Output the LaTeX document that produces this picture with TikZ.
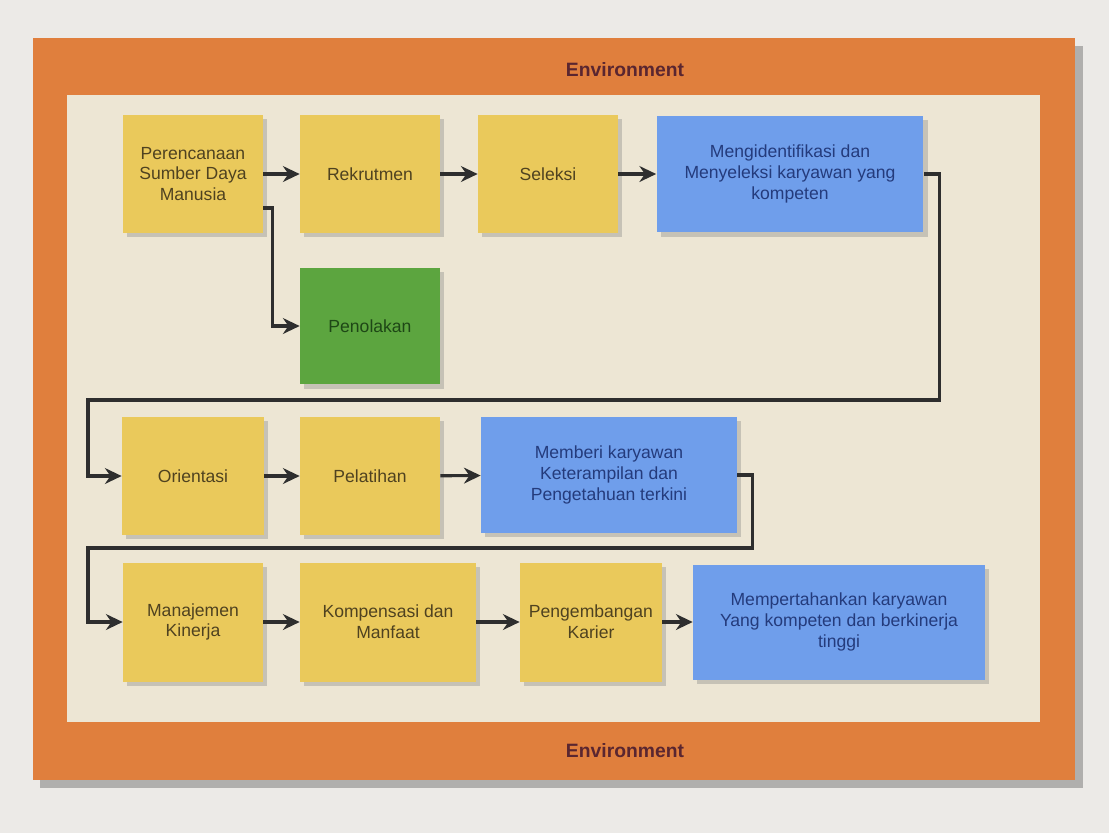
\documentclass[tikz,border=0pt]{standalone}
\usepackage{fontspec}
\setmainfont{Liberation Sans}
\usetikzlibrary{shadows,arrows.meta}
\definecolor{pagegray}{HTML}{ECEAE7}
\definecolor{envorange}{HTML}{E07F3D}
\definecolor{envtext}{HTML}{5A2630}
\definecolor{cream}{HTML}{EDE6D4}
\definecolor{boxyellow}{HTML}{EAC95B}
\definecolor{boxgreen}{HTML}{5CA53F}
\definecolor{boxblue}{HTML}{6F9EEB}
\definecolor{txtolive}{HTML}{4F4220}
\definecolor{txtnavy}{HTML}{243B7C}
\definecolor{txtgreen}{HTML}{1E4716}
\definecolor{linkgray}{HTML}{2E2E2E}

\begin{document}
\begin{tikzpicture}[x=0.02cm, y=-0.02cm,
  box/.style={minimum width=2.8cm, minimum height=2.36cm, align=center, inner sep=2pt,
    font=\fontsize{10}{11.8}\selectfont,
    drop shadow={shadow xshift=2.5pt, shadow yshift=-2.5pt, opacity=0.35}},
  hrm/.style={box, fill=boxyellow, text=txtolive},
  reject/.style={box, fill=boxgreen, text=txtgreen},
  result/.style={box, fill=boxblue, text=txtnavy},
  link/.style={draw=linkgray, line width=1.8pt, -{Stealth[length=9.5pt,width=9pt]}},
  envlabel/.style={font=\bfseries\fontsize{11}{13}\selectfont, text=envtext}]

\useasboundingbox (0,0) rectangle (1109,833);
\fill[pagegray] (0,0) rectangle (1109,833);

% frame
\fill[black, opacity=0.25] (40,46) rectangle (1083,788);
\fill[envorange] (33,38) rectangle (1075,780);
\fill[cream] (67,95) rectangle (1040,722);
\node[envlabel] (envtop) at (625,70) {Environment};
\node[envlabel] (envbot) at (625,751) {Environment};

% row 1
\node[hrm] (plan) at (193,174) {Perencanaan\\Sumber Daya\\Manusia};
\node[hrm] (rekrut) at (370,174) {Rekrutmen};
\node[hrm] (seleksi) at (548,174) {Seleksi};
\node[result, minimum width=5.34cm, minimum height=2.34cm] (identif) at (790,174) {Mengidentifikasi dan\\Menyeleksi karyawan yang\\kompeten};
\node[reject, minimum height=2.34cm] (tolak) at (370,326) {Penolakan};

% row 2
\node[hrm, minimum width=2.84cm] (orient) at (193,476) {Orientasi};
\node[hrm] (latih) at (370,476) {Pelatihan};
\node[result, minimum width=5.12cm, minimum height=2.32cm] (memberi) at (609,475) {Memberi karyawan\\Keterampilan dan\\Pengetahuan terkini};

% row 3
\node[hrm, minimum height=2.38cm] (kinerja) at (193,622) {Manajemen\\Kinerja};
\node[hrm, minimum width=3.52cm, minimum height=2.38cm] (kompen) at (388,622) {Kompensasi dan\\Manfaat};
\node[hrm, minimum width=2.84cm, minimum height=2.38cm] (karier) at (591,622) {Pengembangan\\Karier};
\node[result, minimum width=5.84cm, minimum height=2.3cm] (tahan) at (839,622) {Mempertahankan karyawan\\Yang kompeten dan berkinerja\\tinggi};

\draw[link] (plan) to (rekrut);
\draw[link] (rekrut) to (seleksi);
\draw[link] (seleksi) to (identif);
\draw[link] ([yshift=-0.68cm]plan.east) -- ++(9,0) |- (tolak.west);
\draw[link] (identif.east) -- ++(16,0) |- (88,400) |- (orient.west);

\draw[link] (orient) to (latih);
\draw[link] (latih) to (memberi);
\draw[link] (memberi.east) -- ++(15,0) |- (88,548) |- (kinerja.west);

\draw[link] (kinerja) to (kompen);
\draw[link] (kompen) to (karier);
\draw[link] (karier) to (tahan);
\end{tikzpicture}
\end{document}
